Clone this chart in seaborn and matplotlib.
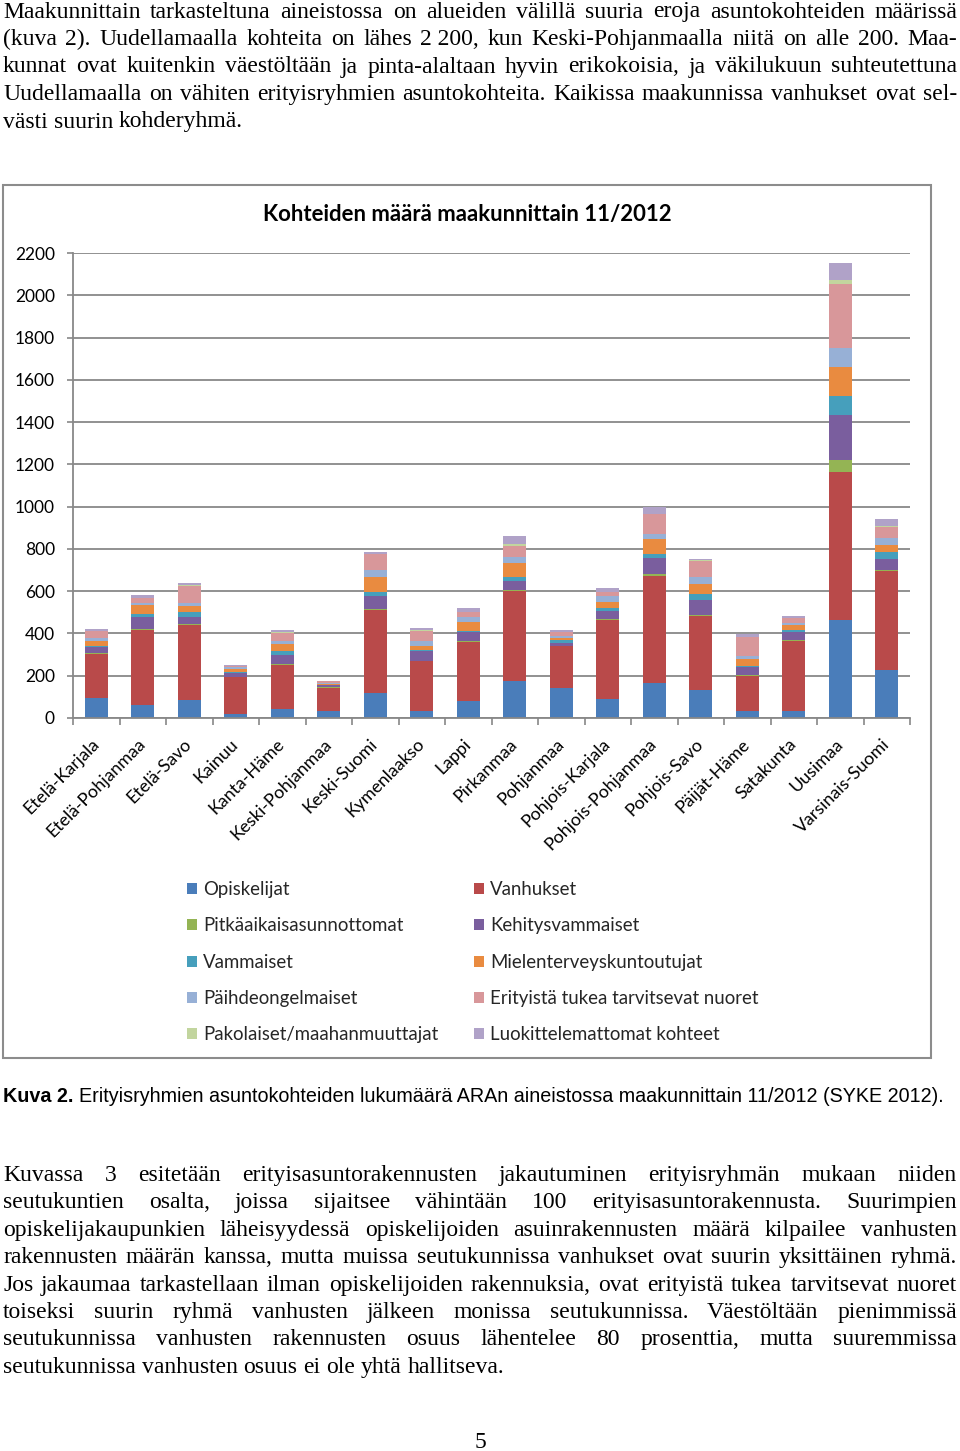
import numpy as np
import pandas as pd
import matplotlib
matplotlib.use("Agg")
import matplotlib.pyplot as plt
import seaborn as sns
from matplotlib.patches import Patch, Rectangle
from matplotlib import font_manager

# ---------------- data ----------------
regions = ["Etelä-Karjala", "Etelä-Pohjanmaa", "Etelä-Savo", "Kainuu", "Kanta-Häme",
           "Keski-Pohjanmaa", "Keski-Suomi", "Kymenlaakso", "Lappi", "Pirkanmaa",
           "Pohjanmaa", "Pohjois-Karjala", "Pohjois-Pohjanmaa", "Pohjois-Savo",
           "Päijät-Häme", "Satakunta", "Uusimaa", "Varsinais-Suomi"]

groups = ["Opiskelijat", "Vanhukset", "Pitkäaikaisasunnottomat", "Kehitysvammaiset",
          "Vammaiset", "Mielenterveyskuntoutujat", "Päihdeongelmaiset",
          "Erityistä tukea tarvitsevat nuoret", "Pakolaiset/maahanmuuttajat",
          "Luokittelemattomat kohteet"]

opiskelijat   = [94, 60, 83, 20, 43, 35, 118, 31, 82, 176, 142, 91, 165, 134, 31, 31, 462, 228]
vanhukset     = [210, 357, 358, 172, 210, 108, 394, 239, 277, 426, 199, 374, 507, 349, 169, 331, 702, 468]
pitkaaikais   = [3, 2, 2, 2, 2, 2, 3, 2, 3, 4, 2, 3, 10, 5, 5, 7, 55, 2]
kehitysvamm   = [28, 58, 34, 17, 41, 9, 60, 43, 43, 43, 14, 36, 77, 71, 36, 40, 216, 53]
vammaiset     = [8, 16, 24, 9, 19, 4, 23, 8, 8, 16, 13, 16, 17, 27, 6, 8, 87, 33]
mielenterveys = [22, 42, 31, 14, 36, 5, 68, 20, 39, 67, 8, 31, 71, 49, 32, 21, 138, 35]
paihde        = [15, 10, 13, 5, 11, 3, 32, 19, 25, 32, 11, 24, 22, 31, 15, 11, 90, 31]
nuoret        = [30, 22, 80, 6, 42, 8, 76, 51, 23, 52, 18, 22, 94, 78, 87, 22, 304, 55]
pakolaiset    = [2, 2, 2, 1, 1, 0, 2, 1, 1, 8, 1, 1, 2, 2, 2, 1, 19, 3]
luokittelem   = [10, 12, 11, 3, 9, 2, 11, 10, 19, 37, 9, 16, 35, 7, 15, 11, 79, 35]

yticks = list(range(0, 2201, 200))

colors = ["#4A7DBA", "#B94A4A", "#94B454", "#7A5E9E", "#469FBC",
          "#E98B40", "#97B0D6", "#D8979A", "#C2D59E", "#B0A2C8"]

top_lines = [
    "Maakunnittain tarkasteltuna aineistossa on alueiden välillä suuria eroja asuntokohteiden määrissä",
    "(kuva 2). Uudellamaalla kohteita on lähes 2\u00a0200, kun Keski-Pohjanmaalla niitä on alle 200. Maa-",
    "kunnat ovat kuitenkin väestöltään ja pinta-alaltaan hyvin erikokoisia, ja väkilukuun suhteutettuna",
    "Uudellamaalla on vähiten erityisryhmien asuntokohteita. Kaikissa maakunnissa vanhukset ovat sel-",
    "västi suurin kohderyhmä.",
]
bottom_lines = [
    "Kuvassa 3 esitetään erityisasuntorakennusten jakautuminen erityisryhmän mukaan niiden",
    "seutukuntien osalta, joissa sijaitsee vähintään 100 erityisasuntorakennusta. Suurimpien",
    "opiskelijakaupunkien läheisyydessä opiskelijoiden asuinrakennusten määrä kilpailee vanhusten",
    "rakennusten määrän kanssa, mutta muissa seutukunnissa vanhukset ovat suurin yksittäinen ryhmä.",
    "Jos jakaumaa tarkastellaan ilman opiskelijoiden rakennuksia, ovat erityistä tukea tarvitsevat nuoret",
    "toiseksi suurin ryhmä vanhusten jälkeen monissa seutukunnissa. Väestöltään pienimmissä",
    "seutukunnissa vanhusten rakennusten osuus lähentelee 80 prosenttia, mutta suuremmissa",
    "seutukunnissa vanhusten osuus ei ole yhtä hallitseva.",
]
caption_bold = "Kuva 2."
caption_rest = "Erityisryhmien asuntokohteiden lukumäärä ARAn aineistossa maakunnittain 11/2012 (SYKE 2012)."
chart_title = "Kohteiden määrä maakunnittain 11/2012"
page_no = "5"

# ---------------- setup ----------------
W, H = 960, 1451
sns.set_theme(style="white")
plt.rcParams["font.family"] = ["Lato", "DejaVu Sans"]
fig = plt.figure(figsize=(W / 100, H / 100), dpi=100)
fig.patch.set_facecolor("white")

def fx(x):
    return x / W

def fy(y):
    return 1 - y / H

installed = {f.name for f in font_manager.fontManager.ttflist}
serif = "Liberation Serif"
cap_family = "Liberation Sans Narrow" if "Liberation Sans Narrow" in installed else "Liberation Sans"

# ---------------- chart ----------------
ax = fig.add_axes([fx(73), fy(718), (910 - 73) / W, (718 - 253) / H])
layers = [opiskelijat, vanhukset, pitkaaikais, kehitysvamm, vammaiset,
          mielenterveys, paihde, nuoret, pakolaiset, luokittelem]
cum = np.cumsum(np.array(layers), axis=0)
df = pd.DataFrame({"Maakunta": regions})
for g, c in zip(groups, cum):
    df[g] = c

for g, col in reversed(list(zip(groups, colors))):
    sns.barplot(data=df, x="Maakunta", y=g, order=regions, color=col,
                saturation=1, width=0.5, errorbar=None, ax=ax, linewidth=0)

gridc = "#888888"
ax.set_xlim(-0.5, len(regions) - 0.5)
ax.set_ylim(0, 2200)
ax.set_xlabel("")
ax.set_ylabel("")
ax.set_yticks(yticks)
ax.set_yticklabels([str(v) for v in yticks])
ax.yaxis.grid(True, color=gridc, lw=1.3)
ax.xaxis.grid(False)
ax.set_axisbelow(True)
for s in ["top", "right"]:
    ax.spines[s].set_visible(False)
for s in ["left", "bottom"]:
    ax.spines[s].set_color(gridc)
    ax.spines[s].set_linewidth(1.3)

ax.tick_params(axis="y", left=True, length=4, width=1.2, color=gridc,
               pad=9, labelsize=12.5, labelcolor="black")
ax.set_xticks(range(len(regions)))
ax.set_xticklabels(regions, rotation=45, ha="right", va="center",
                   rotation_mode="anchor", fontsize=12.8, color="black")
ax.tick_params(axis="x", which="major", bottom=False, length=0, pad=17)
ax.set_xticks(np.arange(-0.5, len(regions), 1), minor=True)
ax.tick_params(axis="x", which="minor", bottom=True, length=5, width=1.2, color=gridc)

fig.text(fx(467), fy(215), chart_title, ha="center", va="center",
         fontsize=15.9, fontweight="bold", color="black")

# frame around chart
fig.add_artist(Rectangle((fx(3), fy(1058)), (931 - 3) / W, (1058 - 185) / H,
                         transform=fig.transFigure, fill=False,
                         edgecolor="#8c8c8c", lw=1.5))

# legend (two columns, row-wise order)
handles = [Patch(facecolor=c, edgecolor="none") for c in colors]
leg_kw = dict(frameon=False, fontsize=13.4, handlelength=0.55, handleheight=0.55,
              handletextpad=0.33, labelspacing=1.04, borderaxespad=0, borderpad=0,
              loc="upper left")
left_idx = [0, 2, 4, 6, 8]
right_idx = [1, 3, 5, 7, 9]
fig.legend([handles[i] for i in left_idx], [groups[i] for i in left_idx],
           bbox_to_anchor=(fx(187), fy(881)), **leg_kw)
fig.legend([handles[i] for i in right_idx], [groups[i] for i in right_idx],
           bbox_to_anchor=(fx(474), fy(881)), **leg_kw)

# ---------------- page text ----------------
renderer = fig.canvas.get_renderer()

def justified(lines, baselines, size, x0=3, x1=957, justify_last=False):
    for i, (line, yb) in enumerate(zip(lines, baselines)):
        words = line.split(" ")
        texts = [fig.text(0, 0, w, fontsize=size, family=serif, color="black",
                          ha="left", va="baseline") for w in words]
        widths = [t.get_window_extent(renderer).width for t in texts]
        last = i == len(lines) - 1
        if last and not justify_last:
            gap = size * 100 / 72 * 0.25
        else:
            gap = (x1 - x0 - sum(widths)) / max(len(words) - 1, 1)
        x = x0
        for t, w in zip(texts, widths):
            t.set_position((fx(x), fy(yb)))
            x += w + gap

fs_body = 17
justified(top_lines, [17.5 + 27.5 * i for i in range(len(top_lines))], fs_body)
justified(bottom_lines, [1181 + 27.4 * i for i in range(len(bottom_lines))], fs_body)

# caption, fitted to its width in the page
def text_width(s, size, family, weight="normal"):
    t = fig.text(0, 0, s, fontsize=size, family=family, fontweight=weight)
    w = t.get_window_extent(renderer).width
    t.remove()
    return w

w_ref = text_width(caption_bold + " ", 10, cap_family, "bold") + text_width(caption_rest, 10, cap_family)
cap_size = 10 * (945 - 3) / w_ref
fig.text(fx(3), fy(1102), caption_bold, fontsize=cap_size, family=cap_family,
         fontweight="bold", ha="left", va="baseline", color="black")
wb = text_width(caption_bold + " ", cap_size, cap_family, "bold")
fig.text(fx(3 + wb), fy(1102), caption_rest, fontsize=cap_size, family=cap_family,
         ha="left", va="baseline", color="black")

fig.text(fx(480), fy(1448), page_no, fontsize=fs_body, family=serif,
         ha="center", va="baseline", color="black")

fig.savefig("out.png", dpi=100, facecolor="white")
